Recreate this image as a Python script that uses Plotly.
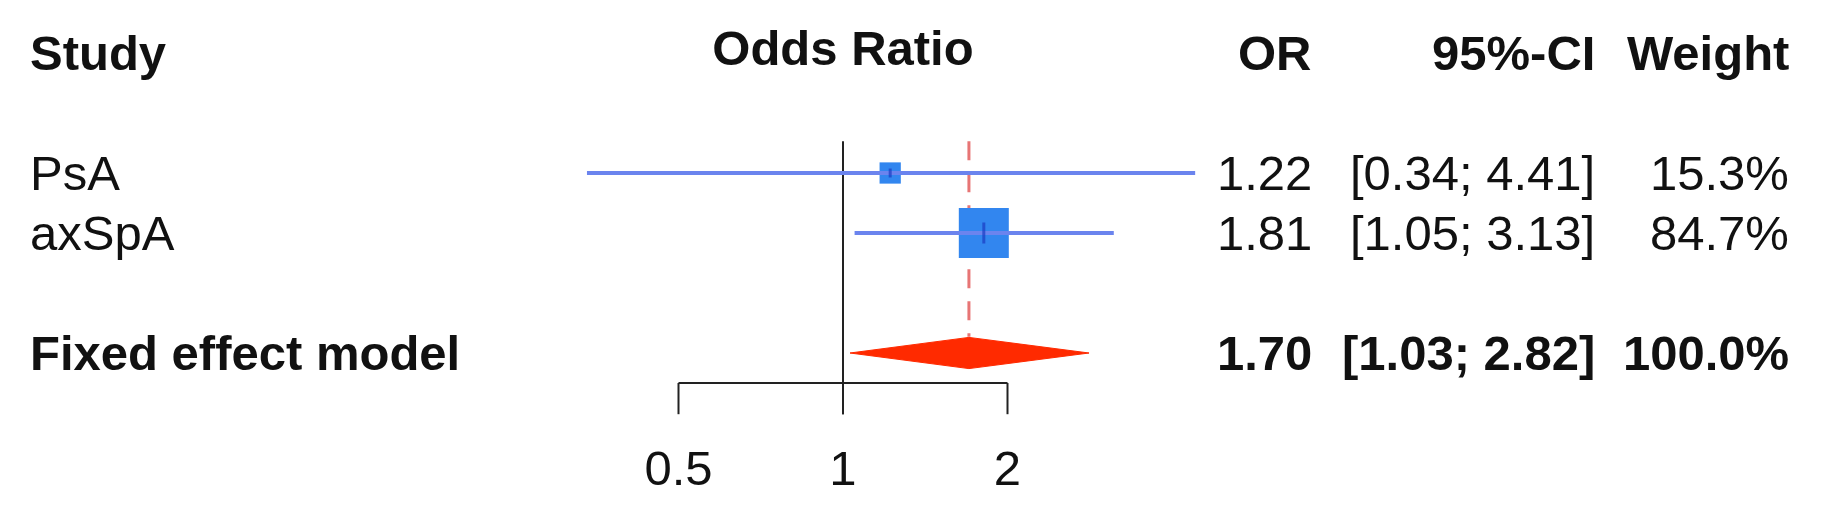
import numpy as np
import plotly.graph_objects as go

# study-level data
studies = ["PsA", "axSpA"]
odds_ratio = [1.22, 1.81]
ci_lower = [0.34, 1.05]
ci_upper = [4.41, 3.13]
weights = [15.3, 84.7]

# pooled estimate
pooled_label = "Fixed effect model"
pooled_or = 1.70
pooled_lower = 1.03
pooled_upper = 2.82
pooled_weight = 100.0

headers = ["Study", "Odds Ratio", "OR", "95%-CI", "Weight"]
tick_values = [0.5, 1, 2]
tick_labels = ["0.5", "1", "2"]

W, H = 1826, 506
FONT = "Liberation Sans, Arial, sans-serif"
FS = 49

# row layout (rows are 60px apart)
header_row = 0
study_rows = [2, 3]
pooled_row = 5
axis_row = 5.5
tick_end = 6.02
label_row = 7.0
top_row = 1.47

LINE_BLUE = "#6b84ee"
SQUARE_BLUE = "#3286ef"
EST_BLUE = "#1a3cc4"
RED = "#ff2a00"
DASH_RED = "#e77575"

fig = go.Figure()

# reference line at OR = 1
fig.add_trace(go.Scatter(
    x=[1, 1], y=[top_row, tick_end], mode="lines",
    line=dict(color="#222222", width=2), hoverinfo="skip", showlegend=False,
))

# pooled estimate dashed line
fig.add_trace(go.Scatter(
    x=[pooled_or, pooled_or], y=[top_row, pooled_row - 0.27], mode="lines",
    line=dict(color=DASH_RED, width=3, dash="19px,13px"),
    hoverinfo="skip", showlegend=False,
))

# squares sized by weight
sizes = [50 * np.sqrt(w / max(weights)) for w in weights]
fig.add_trace(go.Scatter(
    x=odds_ratio, y=study_rows, mode="markers",
    marker=dict(symbol="square", size=sizes, color=SQUARE_BLUE, opacity=1,
                line=dict(width=0)),
    hoverinfo="skip", showlegend=False,
))

# confidence intervals
for lo, hi, row in zip(ci_lower, ci_upper, study_rows):
    fig.add_trace(go.Scatter(
        x=[lo, hi], y=[row, row], mode="lines",
        line=dict(color=LINE_BLUE, width=4), hoverinfo="skip", showlegend=False,
    ))

# point estimate marks
fig.add_trace(go.Scatter(
    x=odds_ratio, y=study_rows, mode="markers",
    marker=dict(symbol="line-ns", size=[s * 0.3 for s in sizes],
                line=dict(color=EST_BLUE, width=3)),
    hoverinfo="skip", showlegend=False,
))

# diamond
dh = 0.26
fig.add_trace(go.Scatter(
    x=[pooled_lower, pooled_or, pooled_upper, pooled_or, pooled_lower],
    y=[pooled_row, pooled_row - dh, pooled_row, pooled_row + dh, pooled_row],
    mode="lines", fill="toself", fillcolor=RED,
    line=dict(color=RED, width=1), hoverinfo="skip", showlegend=False,
))

# x axis (bracket with ticks)
ax_x = [tick_values[0], tick_values[-1]]
ax_y = [axis_row, axis_row]
for t in tick_values:
    ax_x += [None, t, t]
    ax_y += [None, axis_row, tick_end]
fig.add_trace(go.Scatter(
    x=ax_x, y=ax_y, mode="lines",
    line=dict(color="#222222", width=2), hoverinfo="skip", showlegend=False,
))
fig.add_trace(go.Scatter(
    x=tick_values, y=[label_row] * len(tick_values), mode="text",
    text=tick_labels, textposition="middle center",
    textfont=dict(family=FONT, size=FS, color="#111111"),
    hoverinfo="skip", showlegend=False,
))

# header "Odds Ratio" centred on the reference line
fig.add_trace(go.Scatter(
    x=[1], y=[header_row], mode="text", text=["<b>Odds Ratio</b>"],
    textposition="middle center",
    textfont=dict(family=FONT, size=FS, color="#111111"),
    hoverinfo="skip", showlegend=False,
))

# text columns
col_or = 1314 / W
col_ci = 1597 / W
col_w = 1791 / W
col_study = 28 / W


def add_text(x, row, text, anchor, bold=False):
    fig.add_annotation(
        x=x, xref="paper", y=row, yref="y",
        text=f"<b>{text}</b>" if bold else text,
        xanchor=anchor, yanchor="middle", showarrow=False,
        font=dict(family=FONT, size=FS, color="#111111"),
    )


add_text(col_study, header_row, headers[0], "left", True)
add_text(col_or, header_row, headers[2], "right", True)
add_text(col_ci, header_row, headers[3], "right", True)
add_text(col_w, header_row, headers[4], "right", True)

for name, o, lo, hi, w, row in zip(studies, odds_ratio, ci_lower, ci_upper, weights, study_rows):
    add_text(col_study, row, name, "left")
    add_text(col_or, row, f"{o:.2f}", "right")
    add_text(col_ci, row, f"[{lo:.2f}; {hi:.2f}]", "right")
    add_text(col_w, row, f"{w:.1f}%", "right")

add_text(col_study, pooled_row, pooled_label, "left", True)
add_text(col_or, pooled_row, f"{pooled_or:.2f}", "right", True)
add_text(col_ci, pooled_row, f"[{pooled_lower:.2f}; {pooled_upper:.2f}]", "right", True)
add_text(col_w, pooled_row, f"{pooled_weight:.1f}%", "right", True)

# log scale: OR 1 at x=843px, one doubling = 164.5px
px_one, px_dbl = 843, 164.5
x_range = [(0 - px_one) / px_dbl * np.log10(2), (W - px_one) / px_dbl * np.log10(2)]
# rows: row 0 at y=53px, 60px per row
y_range = [(H - 53) / 60, -53 / 60]

fig.update_layout(
    width=W, height=H,
    margin=dict(l=0, r=0, t=0, b=0),
    paper_bgcolor="white", plot_bgcolor="white",
    xaxis=dict(type="log", range=x_range, visible=False, fixedrange=True),
    yaxis=dict(range=y_range, visible=False, fixedrange=True),
    showlegend=False,
)

# drop the default page margin so the figure sits at the window corner
fig.write_html("out.html", config={"displayModeBar": False},
               post_script="document.body.style.margin='0';")
